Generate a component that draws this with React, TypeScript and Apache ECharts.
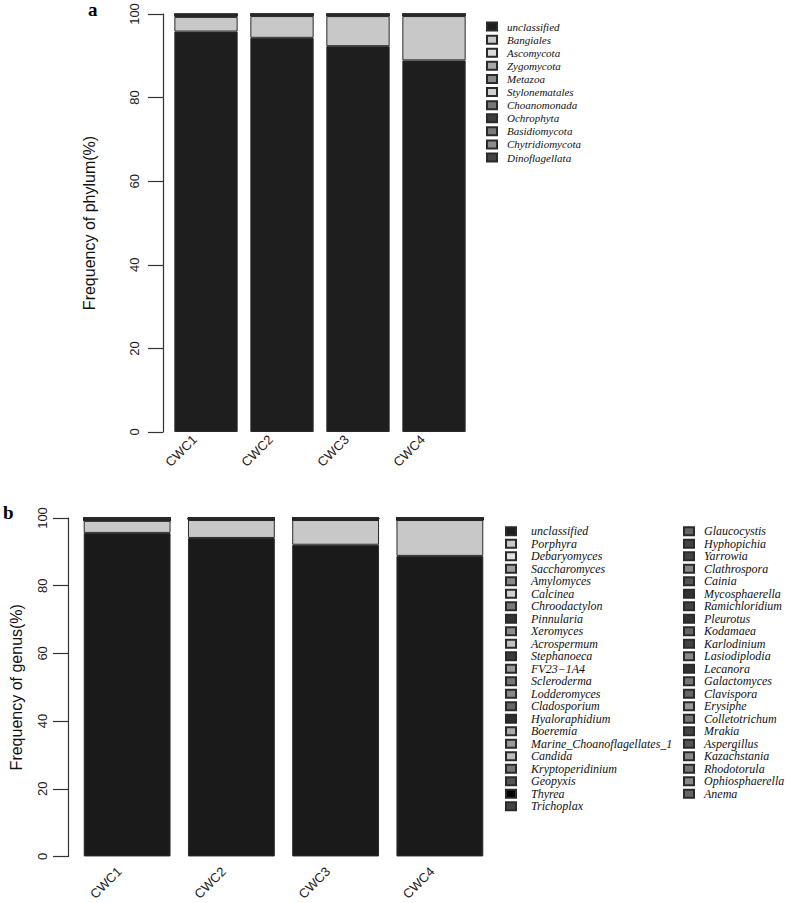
import React, { useEffect, useRef } from "react";
import * as echarts from "echarts";

const samples = ["CWC1", "CWC2", "CWC3", "CWC4"];

const phylumNames = [
  "unclassified", "Bangiales", "Ascomycota", "Zygomycota", "Metazoa", "Stylonematales",
  "Choanomonada", "Ochrophyta", "Basidiomycota", "Chytridiomycota", "Dinoflagellata",
];
const phylumColors = [
  "#1e1e1e", "#c8c8c8", "#dcdcdc", "#a8a8a8", "#8a8a8a", "#cfcfcf",
  "#777777", "#3c3c3c", "#7a7a7a", "#8c8c8c", "#444444",
];
const phylumCWC1 = [95.8, 3.5, 0.2, 0.1, 0.1, 0.08, 0.06, 0.05, 0.04, 0.04, 0.03];
const phylumCWC2 = [94.3, 5.2, 0.12, 0.08, 0.07, 0.06, 0.05, 0.04, 0.03, 0.03, 0.02];
const phylumCWC3 = [92.3, 7.2, 0.13, 0.07, 0.07, 0.05, 0.05, 0.04, 0.04, 0.03, 0.02];
const phylumCWC4 = [88.9, 10.6, 0.12, 0.08, 0.06, 0.06, 0.05, 0.05, 0.03, 0.03, 0.02];

const genusCol1 = [
  "unclassified", "Porphyra", "Debaryomyces", "Saccharomyces", "Amylomyces", "Calcinea",
  "Chroodactylon", "Pinnularia", "Xeromyces", "Acrospermum", "Stephanoeca", "FV23−1A4",
  "Scleroderma", "Lodderomyces", "Cladosporium", "Hyaloraphidium", "Boeremia",
  "Marine_Choanoflagellates_1", "Candida", "Kryptoperidinium", "Geopyxis", "Thyrea", "Trichoplax",
];
const genusCol2 = [
  "Glaucocystis", "Hyphopichia", "Yarrowia", "Clathrospora", "Cainia", "Mycosphaerella",
  "Ramichloridium", "Pleurotus", "Kodamaea", "Karlodinium", "Lasiodiplodia", "Lecanora",
  "Galactomyces", "Clavispora", "Erysiphe", "Colletotrichum", "Mrakia", "Aspergillus",
  "Kazachstania", "Rhodotorula", "Ophiosphaerella", "Anema",
];
const genusColors = [
  "#1a1a1a", "#c8c8c8", "#e0e0e0", "#a0a0a0", "#888888", "#d0d0d0",
  "#7a7a7a", "#333333", "#8c8c8c", "#c0c0c0", "#3a3a3a", "#999999",
  "#777777", "#888888", "#666666", "#2e2e2e", "#aaaaaa",
  "#999999", "#bbbbbb", "#777777", "#555555", "#000000", "#444444",
  "#666666", "#444444", "#444444", "#888888", "#555555", "#333333",
  "#444444", "#333333", "#666666", "#444444", "#888888", "#333333",
  "#777777", "#666666", "#999999", "#777777", "#444444", "#555555",
  "#888888", "#777777", "#888888", "#666666",
];
const genusCWC1 = [
  95.6, 3.57, 0.05, 0.05, 0.04, 0.04, 0.04, 0.03, 0.03, 0.03, 0.03, 0.03,
  0.02, 0.02, 0.02, 0.02, 0.02, 0.02, 0.02, 0.02, 0.02, 0.02, 0.02,
  0.02, 0.02, 0.01, 0.01, 0.01, 0.01, 0.01, 0.01, 0.01, 0.01, 0.01, 0.01,
  0.01, 0.01, 0.01, 0.01, 0.01, 0.01, 0.01, 0.01, 0.01, 0.01,
];
const genusCWC2 = [
  94.1, 5.3, 0.04, 0.04, 0.03, 0.03, 0.03, 0.02, 0.02, 0.02, 0.02, 0.02,
  0.01, 0.01, 0.01, 0.01, 0.01, 0.01, 0.01, 0.01, 0.01, 0.01, 0.01,
  0.01, 0.01, 0.01, 0.01, 0.01, 0.01, 0.01, 0.01, 0.01, 0.01, 0.01, 0.01,
  0.01, 0.01, 0.01, 0.01, 0.01, 0.01, 0.01, 0.01, 0.01, 0.01,
];
const genusCWC3 = [
  92.1, 7.3, 0.03, 0.05, 0.03, 0.03, 0.02, 0.03, 0.02, 0.02, 0.02, 0.02,
  0.01, 0.01, 0.01, 0.01, 0.01, 0.01, 0.01, 0.01, 0.01, 0.01, 0.01,
  0.01, 0.01, 0.01, 0.01, 0.01, 0.01, 0.01, 0.01, 0.01, 0.01, 0.01, 0.01,
  0.01, 0.01, 0.01, 0.01, 0.01, 0.01, 0.01, 0.01, 0.01, 0.01,
];
const genusCWC4 = [
  88.8, 10.6, 0.04, 0.03, 0.04, 0.02, 0.03, 0.02, 0.03, 0.02, 0.02, 0.02,
  0.01, 0.01, 0.01, 0.01, 0.01, 0.01, 0.01, 0.01, 0.01, 0.01, 0.01,
  0.01, 0.01, 0.01, 0.01, 0.01, 0.01, 0.01, 0.01, 0.01, 0.01, 0.01, 0.01,
  0.01, 0.01, 0.01, 0.01, 0.01, 0.01, 0.01, 0.01, 0.01, 0.01,
];

const yTicks = [0, 20, 40, 60, 80, 100];

const SANS = "'Liberation Sans', Arial, sans-serif";
const SERIF = "'Liberation Serif', 'Times New Roman', serif";

export default function App() {
  const ref = useRef<HTMLDivElement>(null);

  useEffect(() => {
    if (!ref.current) return;
    const chart = echarts.init(ref.current, undefined, { renderer: "svg" });

    const genusNames = [...genusCol1, ...genusCol2];

    const phylumSeries = phylumNames.map((name, i) => ({
      name,
      type: "bar",
      stack: "phylum",
      xAxisIndex: 0,
      yAxisIndex: 0,
      barCategoryGap: "16.7%",
      data: [phylumCWC1[i], phylumCWC2[i], phylumCWC3[i], phylumCWC4[i]],
      itemStyle: { color: phylumColors[i], borderColor: "#2a2a2a", borderWidth: 1 },
      emphasis: { disabled: true },
    }));

    const genusSeries = genusNames.map((name, i) => ({
      name,
      type: "bar",
      stack: "genus",
      xAxisIndex: 1,
      yAxisIndex: 1,
      barCategoryGap: "16.7%",
      data: [genusCWC1[i], genusCWC2[i], genusCWC3[i], genusCWC4[i]],
      itemStyle: { color: genusColors[i], borderColor: "#2a2a2a", borderWidth: 1 },
      emphasis: { disabled: true },
    }));

    const xAxisCommon = {
      type: "category",
      data: samples,
      axisLine: { show: false },
      axisTick: { show: false },
      axisLabel: {
        rotate: 45,
        fontSize: 13,
        color: "#222",
        fontFamily: SANS,
      },
    };

    const yAxisCommon = (name: string, gap: number, labelMargin: number, offset: number, grid: number) => ({
      type: "value",
      gridIndex: grid,
      min: 0,
      max: 100,
      interval: 20,
      offset,
      axisLine: { show: true, lineStyle: { color: "#333", width: 1.2 } },
      axisTick: { show: true, length: 15, lineStyle: { color: "#333", width: 1.2 } },
      splitLine: { show: false },
      axisLabel: {
        rotate: 90,
        margin: labelMargin,
        fontSize: 13,
        color: "#222",
        fontFamily: SANS,
        formatter: (v: number) => (yTicks.includes(v) ? String(v) : ""),
      },
      name,
      nameLocation: "middle",
      nameGap: gap,
      nameTextStyle: { fontSize: 16, color: "#111", fontFamily: SANS },
    });

    const legendText = (size: number, lh: number, padLeft: number) => ({
      fontFamily: SERIF,
      fontStyle: "italic",
      fontSize: size,
      lineHeight: lh,
      color: "#111",
      padding: [0, 0, 0, padLeft],
    });

    const option = {
      animation: false,
      backgroundColor: "#ffffff",
      grid: [
        { left: 168, width: 304, top: 14, height: 418 },
        { left: 69, width: 423, top: 518, height: 351 },
      ],
      xAxis: [
        { ...xAxisCommon, gridIndex: 0, axisLabel: { ...xAxisCommon.axisLabel, margin: -6, padding: [0, 16, 0, 0] } },
        { ...xAxisCommon, gridIndex: 1, axisLabel: { ...xAxisCommon.axisLabel, margin: 5, padding: [0, 11, 0, 0] } },
      ],
      yAxis: [
        yAxisCommon("Frequency of phylum(%)", 66, 22, 5, 0),
        yAxisCommon("Frequency of genus(%)", 44, 19, 7, 1),
      ],
      legend: [
        {
          data: phylumNames,
          orient: "vertical",
          left: 486,
          top: 20,
          padding: 0,
          itemGap: 0,
          itemWidth: 10,
          itemHeight: 8,
          icon: "rect",
          selectedMode: false,
          textStyle: legendText(11, 13.1, 5),
        },
        {
          data: genusCol1,
          orient: "vertical",
          left: 505,
          top: 525,
          padding: 0,
          itemGap: 0,
          itemWidth: 10,
          itemHeight: 8,
          icon: "rect",
          selectedMode: false,
          textStyle: legendText(12, 12.5, 10),
        },
        {
          data: genusCol2,
          orient: "vertical",
          left: 683,
          top: 525,
          padding: 0,
          itemGap: 0,
          itemWidth: 10,
          itemHeight: 8,
          icon: "rect",
          selectedMode: false,
          textStyle: legendText(12, 12.5, 5),
        },
      ],
      graphic: [
        {
          type: "text",
          x: 88,
          y: 0,
          style: { text: "a", font: `bold 19px ${SERIF}`, fill: "#000" },
        },
        {
          type: "text",
          x: 3,
          y: 503,
          style: { text: "b", font: `bold 19px ${SERIF}`, fill: "#000" },
        },
      ],
      series: [...phylumSeries, ...genusSeries],
    };

    chart.setOption(option as any);
    return () => chart.dispose();
  }, []);

  return (
    <div
      ref={ref}
      style={{ position: "absolute", left: 0, top: 0, width: 787, height: 903 }}
    />
  );
}
